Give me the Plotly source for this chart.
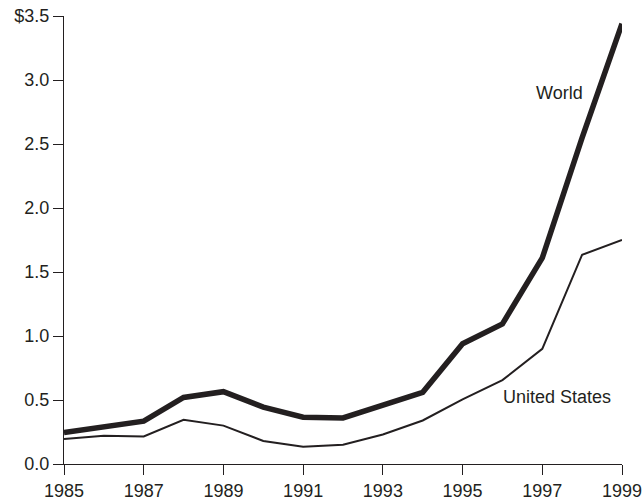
import plotly.graph_objects as go

years = list(range(1985, 2000))
world = [0.245, 0.285, 0.335, 0.52, 0.565, 0.445, 0.365, 0.36, 0.455, 0.56, 0.94, 1.095, 1.61, 2.55, 3.44]
us = [0.195, 0.22, 0.215, 0.345, 0.30, 0.18, 0.135, 0.15, 0.23, 0.34, 0.505, 0.655, 0.90, 1.635, 1.75]
x_ticks = [1985, 1987, 1989, 1991, 1993, 1995, 1997, 1999]
y_ticks = [0, 0.5, 1.0, 1.5, 2.0, 2.5, 3.0, 3.5]
y_labels = ["0.0", "0.5", "1.0", "1.5", "2.0", "2.5", "3.0", "$3.5"]

ink = "#231f20"
font = dict(family="Liberation Sans, Arial, sans-serif", size=18, color=ink)

fig = go.Figure()
fig.add_trace(go.Scatter(x=years, y=us, mode="lines", line=dict(color=ink, width=2), name="United States"))
fig.add_trace(go.Scatter(x=years, y=world, mode="lines", line=dict(color=ink, width=5.5), name="World"))

fig.add_annotation(x=1997.44, y=2.9, text="World", showarrow=False, font=font, xanchor="center", yanchor="middle")
fig.add_annotation(x=1997.37, y=0.52, text="United States", showarrow=False, font=font, xanchor="center", yanchor="middle")

fig.update_layout(
    width=643, height=502,
    margin=dict(l=64, r=21, t=16, b=38),
    paper_bgcolor="white", plot_bgcolor="white",
    showlegend=False,
    font=font,
    xaxis=dict(range=[1985, 1999], tickvals=x_ticks, ticktext=[str(t) for t in x_ticks],
               showgrid=False, zeroline=False, showline=True, linecolor=ink, linewidth=1.2,
               ticks="outside", ticklen=10, tickcolor=ink, tickwidth=1.2, automargin=False,
               ticklabeloverflow="allow"),
    yaxis=dict(range=[0, 3.5], tickvals=y_ticks, ticktext=y_labels,
               showgrid=False, zeroline=False, showline=True, linecolor=ink, linewidth=1.2,
               ticks="outside", ticklen=10, tickcolor=ink, tickwidth=1.2, automargin=False,
               ticklabeloverflow="allow"),
)
fig.update_traces(cliponaxis=False)

fig.write_html("out.html", config={"displayModeBar": False},
               post_script="document.body.style.margin='0';document.body.style.overflow='hidden';")
